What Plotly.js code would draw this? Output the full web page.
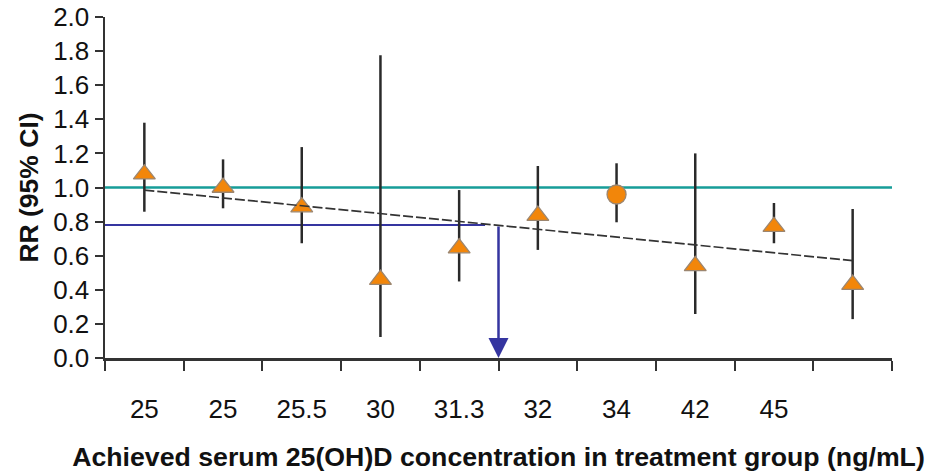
<!DOCTYPE html>
<html>
<head>
<meta charset="utf-8">
<script src="https://cdn.plot.ly/plotly-3.0.1.min.js"></script>
<style>
  html, body { margin: 0; padding: 0; background: #ffffff; }
  #chart { width: 934px; height: 473px; }
</style>
</head>
<body>
<div id="chart"></div>
<script>
// ---- data ----
var xLabels = ['25', '25', '25.5', '30', '31.3', '32', '34', '42', '45', ''];
var rr      = [1.078, 1.00, 0.885, 0.46, 0.645, 0.835, 0.959, 0.54, 0.77, 0.43];
var ciLow   = [0.858, 0.878, 0.673, 0.123, 0.449, 0.634, 0.796, 0.258, 0.673, 0.228];
var ciHigh  = [1.38, 1.165, 1.237, 1.776, 0.985, 1.126, 1.142, 1.20, 0.909, 0.874];
var groupType = ['A', 'A', 'A', 'A', 'A', 'A', 'B', 'A', 'A', 'A'];
var trendRR = [0.985, 0.571];          // fitted line at first and last study
var nullRR = 1.0;                      // reference line RR = 1
var thresholdRR = 0.78;                // RR read-off level
var thresholdPos = 4.5;                // x position (category units) of the read-off
var thresholdLineEnd = 4.33;
var yTicks = [0, 0.2, 0.4, 0.6, 0.8, 1.0, 1.2, 1.4, 1.6, 1.8, 2.0];

// ---- build ----
var idx = xLabels.map(function (_, i) { return i; });
var errPlus = rr.map(function (v, i) { return ciHigh[i] - v; });
var errMinus = rr.map(function (v, i) { return v - ciLow[i]; });
var symbolMap = { A: 'triangle-up', B: 'circle' };
var sizeMap = { A: 19, B: 19 };

var FONT = '"Liberation Sans", Arial, Helvetica, sans-serif';
var ORANGE = '#f2860a';
var OUTLINE = '#9c8670';
var TEAL = '#169d98';
var BLUE = '#3535a0';
var DARK = '#2a2a2a';

var traces = [
  {
    x: idx,
    y: rr,
    type: 'scatter',
    mode: 'markers',
    marker: {
      symbol: groupType.map(function (g) { return symbolMap[g]; }),
      size: groupType.map(function (g) { return sizeMap[g]; }),
      color: ORANGE,
      opacity: 1,
      line: { color: OUTLINE, width: 1.3 }
    },
    error_y: {
      type: 'data',
      symmetric: false,
      array: errPlus,
      arrayminus: errMinus,
      color: DARK,
      thickness: 2.5,
      width: 0
    },
    hoverinfo: 'skip',
    showlegend: false
  },
  {
    x: [idx[0], idx[idx.length - 1]],
    y: trendRR,
    type: 'scatter',
    mode: 'lines',
    line: { color: '#333333', width: 1.7, dash: '10px,3px' },
    hoverinfo: 'skip',
    showlegend: false
  }
];

var layout = {
  width: 934,
  height: 473,
  margin: { l: 105, r: 42, t: 17, b: 115 },
  paper_bgcolor: '#ffffff',
  plot_bgcolor: '#ffffff',
  font: { family: FONT, color: '#111111', size: 26 },
  showlegend: false,
  xaxis: {
    range: [-0.5, xLabels.length - 0.5],
    tickmode: 'array',
    tickvals: idx,
    ticktext: xLabels,
    ticks: '',
    ticklabelstandoff: 26,
    tickfont: { family: FONT, size: 26, color: '#111111' },
    minor: {
      tick0: -0.5,
      dtick: 1,
      ticks: 'outside',
      ticklen: 10,
      tickwidth: 2,
      tickcolor: '#333333',
      showgrid: false
    },
    showline: true,
    linecolor: '#333333',
    linewidth: 2.5,
    showgrid: false,
    zeroline: false,
    fixedrange: true,
    title: {
      text: '<b>Achieved serum 25(OH)D concentration in treatment group (ng/mL)</b>',
      font: { family: FONT, size: 26.7, color: '#111111' },
      standoff: 25
    }
  },
  yaxis: {
    range: [0, 2],
    tickmode: 'array',
    tickvals: yTicks,
    ticktext: yTicks.map(function (v) { return v.toFixed(1); }),
    ticks: 'outside',
    ticklen: 8,
    tickwidth: 2,
    tickcolor: '#333333',
    tickfont: { family: FONT, size: 26, color: '#111111' },
    showline: true,
    linecolor: '#333333',
    linewidth: 2.5,
    showgrid: false,
    zeroline: false,
    fixedrange: true,
    title: {
      text: '<b>RR (95% CI)</b>',
      font: { family: FONT, size: 26.5, color: '#111111' },
      standoff: 7
    }
  },
  shapes: [
    {
      type: 'line', xref: 'paper', yref: 'y', layer: 'below',
      x0: 0, x1: 1, y0: nullRR, y1: nullRR,
      line: { color: TEAL, width: 2.5 }
    },
    {
      type: 'line', xref: 'x', yref: 'y', layer: 'below',
      x0: -0.5, x1: thresholdLineEnd, y0: thresholdRR, y1: thresholdRR,
      line: { color: BLUE, width: 2 }
    }
  ],
  annotations: [
    {
      x: thresholdPos, y: 0, xref: 'x', yref: 'y',
      ax: thresholdPos, ay: thresholdRR, axref: 'x', ayref: 'y',
      showarrow: true, text: '',
      arrowhead: 2, arrowsize: 1.6, arrowwidth: 2.5, arrowcolor: BLUE
    }
  ]
};

Plotly.newPlot('chart', traces, layout, { displayModeBar: false, staticPlot: true });
</script>
</body>
</html>
